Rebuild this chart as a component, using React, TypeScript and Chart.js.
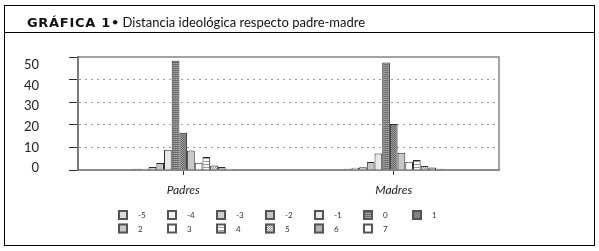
import React, { useEffect, useRef } from 'react';
import { Chart, registerables } from 'chart.js';

Chart.register(...registerables);

const categories = ['Padres', 'Madres'];
const seriesLabels = ['-5', '-4', '-3', '-2', '-1', '0', '1', '2', '3', '4', '5', '6', '7'];
const padres = [0.5, 0.6, 1.3, 3.1, 9.0, 48.3, 16.5, 8.6, 3.2, 5.8, 2.0, 1.3, 0.6];
const madres = [0.5, 1.0, 1.2, 3.5, 7.3, 47.6, 20.4, 7.6, 3.6, 4.4, 1.8, 1.1, 0.5];
const yTickValues = [0, 10, 20, 30, 40, 50];
const fillKinds = ['light', 'white1', 'light2', 'mid', 'light3', 'dots', 'dark', 'mid2', 'white', 'hlines', 'cross', 'mid3', 'white'];

function makeFill(kind: string): string | CanvasPattern {
  const solid: Record<string, string> = {
    light: '#dcdcdc',
    white1: '#f0f0f0',
    light2: '#d0d0d0',
    mid: '#c4c4c4',
    light3: '#e8e8e8',
    mid2: '#c8c8c8',
    white: '#ffffff',
    mid3: '#b4b4b4',
  };
  if (solid[kind]) return solid[kind];
  const c = document.createElement('canvas');
  const g = c.getContext('2d') as CanvasRenderingContext2D;
  if (kind === 'dots') {
    c.width = 2; c.height = 2;
    g.fillStyle = '#a8a8a8'; g.fillRect(0, 0, 2, 2);
    g.fillStyle = '#707070'; g.fillRect(0, 0, 2, 1);
    g.fillStyle = '#8a8a8a'; g.fillRect(1, 1, 1, 1);
  } else if (kind === 'dark') {
    c.width = 2; c.height = 2;
    g.fillStyle = '#9a9a9a'; g.fillRect(0, 0, 2, 2);
    g.fillStyle = '#6a6a6a'; g.fillRect(0, 0, 1, 1); g.fillRect(1, 1, 1, 1);
  } else if (kind === 'hlines') {
    c.width = 1; c.height = 3;
    g.fillStyle = '#ffffff'; g.fillRect(0, 0, 1, 3);
    g.fillStyle = '#9a9a9a'; g.fillRect(0, 2, 1, 1);
  } else {
    c.width = 2; c.height = 2;
    g.fillStyle = '#eeeeee'; g.fillRect(0, 0, 2, 2);
    g.fillStyle = '#9a9a9a'; g.fillRect(0, 0, 1, 1); g.fillRect(1, 1, 1, 1);
  }
  return g.createPattern(c, 'repeat') as CanvasPattern;
}

const framePlugin = {
  id: 'plotFrame',
  afterDraw(chart: any) {
    const { ctx } = chart;
    const { left, right, top, bottom } = chart.chartArea;
    ctx.save();
    ctx.strokeStyle = '#858585';
    ctx.lineWidth = 1.5;
    ctx.beginPath();
    ctx.moveTo(left, top);
    ctx.lineTo(right, top);
    ctx.lineTo(right, bottom);
    ctx.stroke();
    ctx.restore();
  },
};

const gridLegendPlugin = {
  id: 'gridLegend',
  afterDraw(chart: any) {
    const { ctx } = chart;
    ctx.save();
    chart.data.datasets.forEach((ds: any, i: number) => {
      const col = i % 7;
      const row = Math.floor(i / 7);
      const x = 118 + col * 49;
      const y = 210 + row * 13.5;
      ctx.fillStyle = ds.backgroundColor;
      ctx.fillRect(x, y, 10, 10);
      ctx.strokeStyle = '#555555';
      ctx.lineWidth = 2;
      ctx.strokeRect(x + 1, y + 1, 8, 8);
      ctx.fillStyle = '#333333';
      ctx.font = '8px Lato';
      ctx.textBaseline = 'middle';
      ctx.textAlign = 'left';
      ctx.fillText(ds.label, x + 20, y + 5.5);
    });
    ctx.restore();
  },
};

export default function App() {
  const ref = useRef<HTMLCanvasElement | null>(null);

  useEffect(() => {
    if (!ref.current) return;
    const datasets = seriesLabels.map((label, i) => ({
      label,
      data: [padres[i], madres[i]],
      backgroundColor: makeFill(fillKinds[i]),
      borderColor: '#2e2e2e',
      borderWidth: 1,
      barPercentage: 1,
      categoryPercentage: 0.475,
    }));
    const chart = new Chart(ref.current, {
      type: 'bar',
      data: { labels: categories, datasets },
      options: {
        responsive: false,
        animation: false,
        layout: { padding: { left: 0, top: 57, right: 100, bottom: 51 } },
        plugins: {
          legend: { display: false },
          tooltip: { enabled: false },
          title: { display: false },
        },
        scales: {
          x: {
            type: 'category',
            offset: true,
            grid: {
              offset: false,
              drawOnChartArea: false,
              drawTicks: true,
              tickLength: 5,
              tickColor: '#333333',
              tickWidth: 1,
            },
            border: { color: '#8a8a8a', width: 2 },
            ticks: {
              font: { family: 'Lato', size: 12, style: 'italic' },
              color: '#222222',
              padding: 8,
              maxRotation: 0,
            },
            afterFit: (s: any) => { s.height = 30; },
          },
          y: {
            type: 'linear',
            position: 'left',
            weight: 0,
            min: 0,
            max: 50,
            ticks: { display: false, stepSize: 10 },
            grid: {
              color: (c: any) =>
                c.tick && (c.tick.value === 0 || c.tick.value === 50) ? 'rgba(0,0,0,0)' : '#9a9a9a',
              lineWidth: 1,
              tickLength: 9,
              tickColor: '#333333',
              tickWidth: 1,
            },
            border: { color: '#7a7a7a', width: 2, dash: [2, 4] },
            afterFit: (s: any) => { s.width = 38; },
          },
          y2: {
            type: 'linear',
            position: 'left',
            weight: 1,
            min: -0.97,
            max: 53.73,
            grid: { display: false, drawTicks: false },
            border: { display: false },
            ticks: { font: { family: 'Lato', size: 13 }, color: '#222222', padding: 1 },
            afterBuildTicks: (s: any) => { s.ticks = yTickValues.map((v) => ({ value: v })); },
            afterFit: (s: any) => { s.width = 40; },
          },
        },
      } as any,
      plugins: [framePlugin, gridLegendPlugin],
    });
    return () => chart.destroy();
  }, []);

  return (
    <div style={{ position: 'absolute', left: 0, top: 0, width: 599, height: 251, background: '#ffffff' }}>
      <canvas
        ref={ref}
        width={599}
        height={251}
        style={{ position: 'absolute', left: 0, top: 0, width: 599, height: 251 }}
      />
      <div
        style={{
          position: 'absolute', left: 4, top: 5, width: 591, height: 241,
          border: '1px solid #000', boxSizing: 'border-box', pointerEvents: 'none',
        }}
      />
      <div style={{ position: 'absolute', left: 4, top: 32, width: 591, height: 1, background: '#000' }} />
      <div
        style={{
          position: 'absolute', left: 27, top: 16, lineHeight: '13px', fontSize: 13,
          fontFamily: 'Lato, sans-serif', color: '#111', whiteSpace: 'nowrap',
        }}
      >
        <span style={{ fontFamily: '"DejaVu Sans"', fontWeight: 'bold', letterSpacing: '0.7px' }}>GRÁFICA 1</span>
        <span style={{ fontFamily: '"DejaVu Sans"', fontWeight: 'bold' }}>•</span>{' '}
        Distancia ideológica respecto padre-madre
      </div>
    </div>
  );
}
